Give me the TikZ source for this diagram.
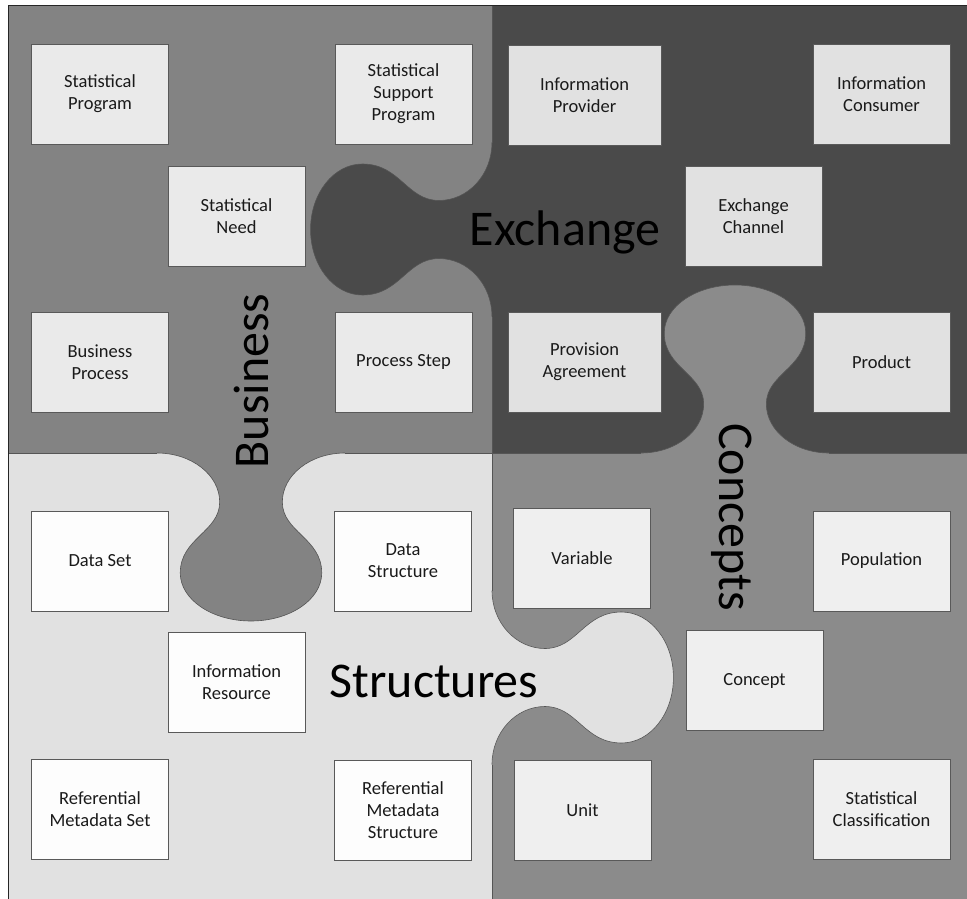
\documentclass[tikz,border=0pt]{standalone}
\usepackage{fontspec}
\setmainfont{Carlito}
\definecolor{cTL}{HTML}{838383}
\definecolor{cTR}{HTML}{4A4A4A}
\definecolor{cBL}{HTML}{E1E1E1}
\definecolor{cBR}{HTML}{8B8B8B}
\definecolor{bTL}{HTML}{EAEAEA}
\definecolor{bTR}{HTML}{E1E1E1}
\definecolor{bBL}{HTML}{FDFDFD}
\definecolor{bBR}{HTML}{EFEFEF}
\definecolor{boxline}{HTML}{595959}
\definecolor{edgeline}{HTML}{555555}
\definecolor{txt}{HTML}{1A1A1A}
\newcommand\puzzletab{(0,-87) .. controls (0,-55) and (22,-29) .. (49,-29)
  .. controls (79,-29) and (85,-65.5) .. (120,-65.5)
  .. controls (146.5,-65.5) and (168,-36.2) .. (168,0)
  .. controls (168,36.2) and (146.5,65.5) .. (120,65.5)
  .. controls (85,65.5) and (79,29) .. (49,29)
  .. controls (22,29) and (0,55) .. (0,87)}
\begin{document}
\begin{tikzpicture}[x=1pt,y=-1pt,
  box/.style={draw=boxline, line width=0.8pt, minimum width=137pt, minimum height=100pt,
    inner sep=2pt, align=center, text=txt, font=\fontsize{18.5}{22}\selectfont},
  boxTL/.style={box, fill=bTL},
  boxTR/.style={box, fill=bTR},
  boxBL/.style={box, fill=bBL},
  boxBR/.style={box, fill=bBR},
  wide/.style={minimum width=153pt},
  edge/.style={draw=edgeline, line width=0.6pt},
  biglabel/.style={font=\fontsize{50}{60}\selectfont, text=black, inner sep=0pt, anchor=base}]
\useasboundingbox (0,0) rectangle (967,899);
\fill[white] (0,0) rectangle (967,899);
% quadrants
\fill[cTL] (8,6) rectangle (492,453);
\fill[cTR] (492,6) rectangle (967,453);
\fill[cBL] (8,453) rectangle (492,899);
\fill[cBR] (492,453) rectangle (967,899);
% Exchange tab (top-right piece, pointing left)
\begin{scope}[shift={(492pt,-229.5pt)}, x={(-1.08pt,0pt)}, y={(0pt,-1pt)}]
  \fill[cTR] \puzzletab -- cycle;
  \draw[edge] \puzzletab;
  \coordinate (exA) at (0,-87); \coordinate (exB) at (0,87);
\end{scope}
% Business tab (top-left piece, pointing down)
\begin{scope}[shift={(251pt,-453pt)}, x={(0pt,-1pt)}, y={(1.08pt,0pt)}]
  \fill[cTL] \puzzletab -- cycle;
  \draw[edge] \puzzletab;
  \coordinate (buA) at (0,-87); \coordinate (buB) at (0,87);
\end{scope}
% Concepts tab (bottom-right piece, pointing up)
\begin{scope}[shift={(735pt,-453pt)}, x={(0pt,1pt)}, y={(1.08pt,0pt)}]
  \fill[cBR] \puzzletab -- cycle;
  \draw[edge] \puzzletab;
  \coordinate (coA) at (0,-87); \coordinate (coB) at (0,87);
\end{scope}
% Structures tab (bottom-left piece, pointing right)
\begin{scope}[shift={(492pt,-677.5pt)}, x={(1.08pt,0pt)}, y={(0pt,-1pt)}]
  \fill[cBL] \puzzletab -- cycle;
  \draw[edge] \puzzletab;
  \coordinate (stA) at (0,-87); \coordinate (stB) at (0,87);
\end{scope}
% straight piece boundaries
\coordinate (vtop) at (492,6);
\coordinate (vbot) at (492,899);
\coordinate (hleft) at (8,453);
\coordinate (hright) at (967,453);
\draw[edge] (vtop) -- (exA) (exB) -- (stA) (stB) -- (vbot);
\draw[edge] (hleft) -- (buA) (buB) -- (coA) (coB) -- (hright);
% outer frame
\coordinate (fbl) at (8,899);
\coordinate (ftl) at (8,6);
\coordinate (ftr) at (967,6);
\draw[draw=black!85, line width=1pt] (fbl) -- (ftl) -- (ftr);
% boxes
\node[boxTL] (sprog) at (100,94) {Statistical\\Program};
\node[boxTL] (ssprog) at (403.5,94) {Statistical\\Support\\Program};
\node[boxTR, wide] (iprov) at (584.5,95) {Information\\Provider};
\node[boxTR] (icons) at (881.5,94) {Information\\Consumer};
\node[boxTL] (sneed) at (236.5,216) {Statistical\\Need};
\node[boxTR] (echan) at (753.5,216) {Exchange\\Channel};
\node[boxTL] (bproc) at (100,362) {Business\\Process};
\node[boxTL] (pstep) at (403.5,362) {Process Step};
\node[boxTR, wide] (pagr) at (584.5,362) {Provision\\Agreement};
\node[boxTR] (prod) at (881.5,362) {Product};
\node[boxBL] (dset) at (100,561) {Data Set};
\node[boxBL] (dstruct) at (403,561) {Data\\Structure};
\node[boxBR] (var) at (582,558) {Variable};
\node[boxBR] (pop) at (881.5,561) {Population};
\node[boxBL] (ires) at (236.5,682) {Information\\Resource};
\node[boxBR] (conc) at (754.5,680.5) {Concept};
\node[boxBL] (rmset) at (100,809) {Referential\\Metadata Set};
\node[boxBL] (rmstruct) at (403,810) {Referential\\Metadata\\Structure};
\node[boxBR] (unit) at (582.5,810) {Unit};
\node[boxBR] (sclass) at (881.5,809) {Statistical\\Classification};
% piece labels
\node[biglabel] (lexch) at (565,245) {Exchange};
\node[biglabel, rotate=90] (lbus) at (268,381) {Business};
\node[biglabel, rotate=-90] (lconc) at (719,517) {Concepts};
\node[biglabel] (lstruct) at (434,697) {Structures};
\end{tikzpicture}
\end{document}
